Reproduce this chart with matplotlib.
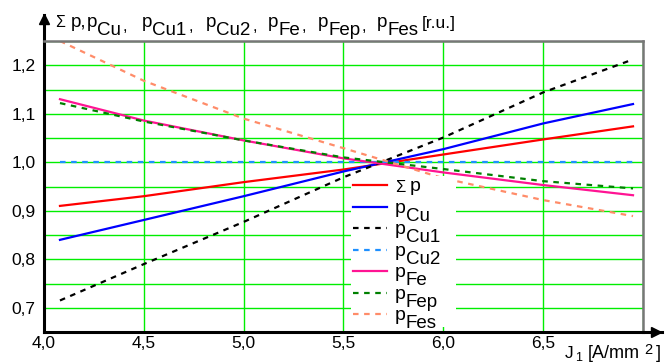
import matplotlib.pyplot as plt
from matplotlib.ticker import FuncFormatter, MultipleLocator

plt.rcParams['font.family'] = ['Liberation Sans', 'DejaVu Sans']

# current density J1 [A/mm2]
J1 = [4.08, 4.5, 5.0, 5.5, 6.0, 6.5, 6.95]
# losses in relative units
p_sum = [0.910, 0.930, 0.959, 0.985, 1.016, 1.047, 1.074]
p_cu = [0.840, 0.881, 0.930, 0.981, 1.027, 1.080, 1.120]
p_cu1 = [0.715, 0.790, 0.877, 0.969, 1.051, 1.144, 1.212]
p_cu2 = [1.0, 1.0, 1.0, 1.0, 1.0, 1.0, 1.0]
p_fe = [1.130, 1.086, 1.045, 1.008, 0.979, 0.953, 0.932]
p_fep = [1.122, 1.084, 1.045, 1.010, 0.986, 0.961, 0.946]
p_fes = [1.250, 1.168, 1.090, 1.029, 0.967, 0.922, 0.889]

# subscripts of the loss names ('' = the sum)
names = ['', 'Cu', 'Cu1', 'Cu2', 'Fe', 'Fep', 'Fes']
colors = ['red', '#0000ff', 'black', '#1e90ff', '#ff1493', '#008000', '#ff8c69']
dashed = [False, False, True, True, False, True, True]
values = [p_sum, p_cu, p_cu1, p_cu2, p_fe, p_fep, p_fes]

W, H = 672, 363
fig = plt.figure(figsize=(W / 100, H / 100), dpi=100)
ax = fig.add_axes([44 / W, 1 - 332 / H, 599 / W, 291 / H])

for y, c, d in zip(values, colors, dashed):
    ls = (0, (2.5, 2.5)) if d else '-'
    ax.plot(J1, y, color=c, linestyle=ls, linewidth=1.6, label=' ' * 11)

ax.set_xlim(4.0, 7.0)
ax.set_ylim(0.65, 1.25)
ax.xaxis.set_major_locator(MultipleLocator(0.5))
ax.yaxis.set_major_locator(MultipleLocator(0.1))
ax.yaxis.set_minor_locator(MultipleLocator(0.05))
ax.grid(True, which='both', color='#00ee00', linewidth=1.0)
ax.set_axisbelow(True)

def comma(v, pos):
    if v > 6.9:
        return ''
    return f'{v:.1f}'.replace('.', ',')

ax.xaxis.set_major_formatter(FuncFormatter(comma))
ax.yaxis.set_major_formatter(FuncFormatter(comma))
ax.tick_params(which='both', length=0, labelsize=12.5)
ax.tick_params(axis='x', pad=3)
ax.tick_params(axis='y', pad=6)
ax.set_yticks([0.7, 0.8, 0.9, 1.0, 1.1, 1.2])

for s in ['left', 'bottom']:
    ax.spines[s].set_linewidth(2.2)
    ax.spines[s].set_color('black')
for s in ['top', 'right']:
    ax.spines[s].set_linewidth(1.8)
    ax.spines[s].set_color('#777777')

# axis arrows
ax.plot([0, 0], [1.0, 1.09], color='black', lw=2.2, transform=ax.transAxes, clip_on=False)
ax.plot([0], [1.075], marker='^', color='black', ms=7, transform=ax.transAxes, clip_on=False)
ax.plot([1.0, 1.032], [0, 0], color='black', lw=2.2, transform=ax.transAxes, clip_on=False)
ax.plot([1.022], [0], marker='>', color='black', ms=7, transform=ax.transAxes, clip_on=False)

renderer = fig.canvas.get_renderer()

def put(txt, size, x_px, base_px):
    # x_px, base_px counted from the top-left corner in pixels; returns right edge
    t = fig.text(x_px / W, 1 - base_px / H, txt, fontsize=size,
                 ha='left', va='baseline', zorder=10)
    return x_px + t.get_window_extent(renderer).width

# y axis caption
put('Σ', 11.5, 55, 27)
put('p,', 13.5, 71, 27)
p_x = [87, 142, 206, 268, 318, 377]
for i, (name, px) in enumerate(zip(names[1:], p_x)):
    x = put('p', 13.5, px, 27)
    x = put(name, 13.5, x, 35)
    if i < len(p_x) - 1:
        put(',', 12, x + 1.5, 31)
    else:
        put('[r.u.]', 12.5, x + 3, 28)

# x axis caption
x = put('J', 12.5, 565, 358)
put('1', 9, x + 1, 361)
x = put('[A/mm', 13, 588, 358)
x = put('2', 10.5, x + 4, 354)
put(']', 13, x + 4, 358)

leg = ax.legend(loc='upper left', bbox_to_anchor=(0.5125, 0.535), frameon=True,
                facecolor='white', edgecolor='none', framealpha=1.0,
                fontsize=14, handlelength=1.75, handletextpad=0.4,
                labelspacing=0.2, borderpad=0.1, borderaxespad=0.0)

fig.canvas.draw()
for name, t in zip(names, leg.get_texts()):
    bb = t.get_window_extent(renderer)
    yc = H - (bb.y0 + bb.y1) / 2
    if name == '':
        put('Σ', 12, bb.x0, yc + 5)
        put('p', 14, bb.x0 + 15, yc + 4)
    else:
        x = put('p', 14, bb.x0, yc + 4)
        put(name, 13.5, x, yc + 12)

fig.savefig('out.png', dpi=100)
